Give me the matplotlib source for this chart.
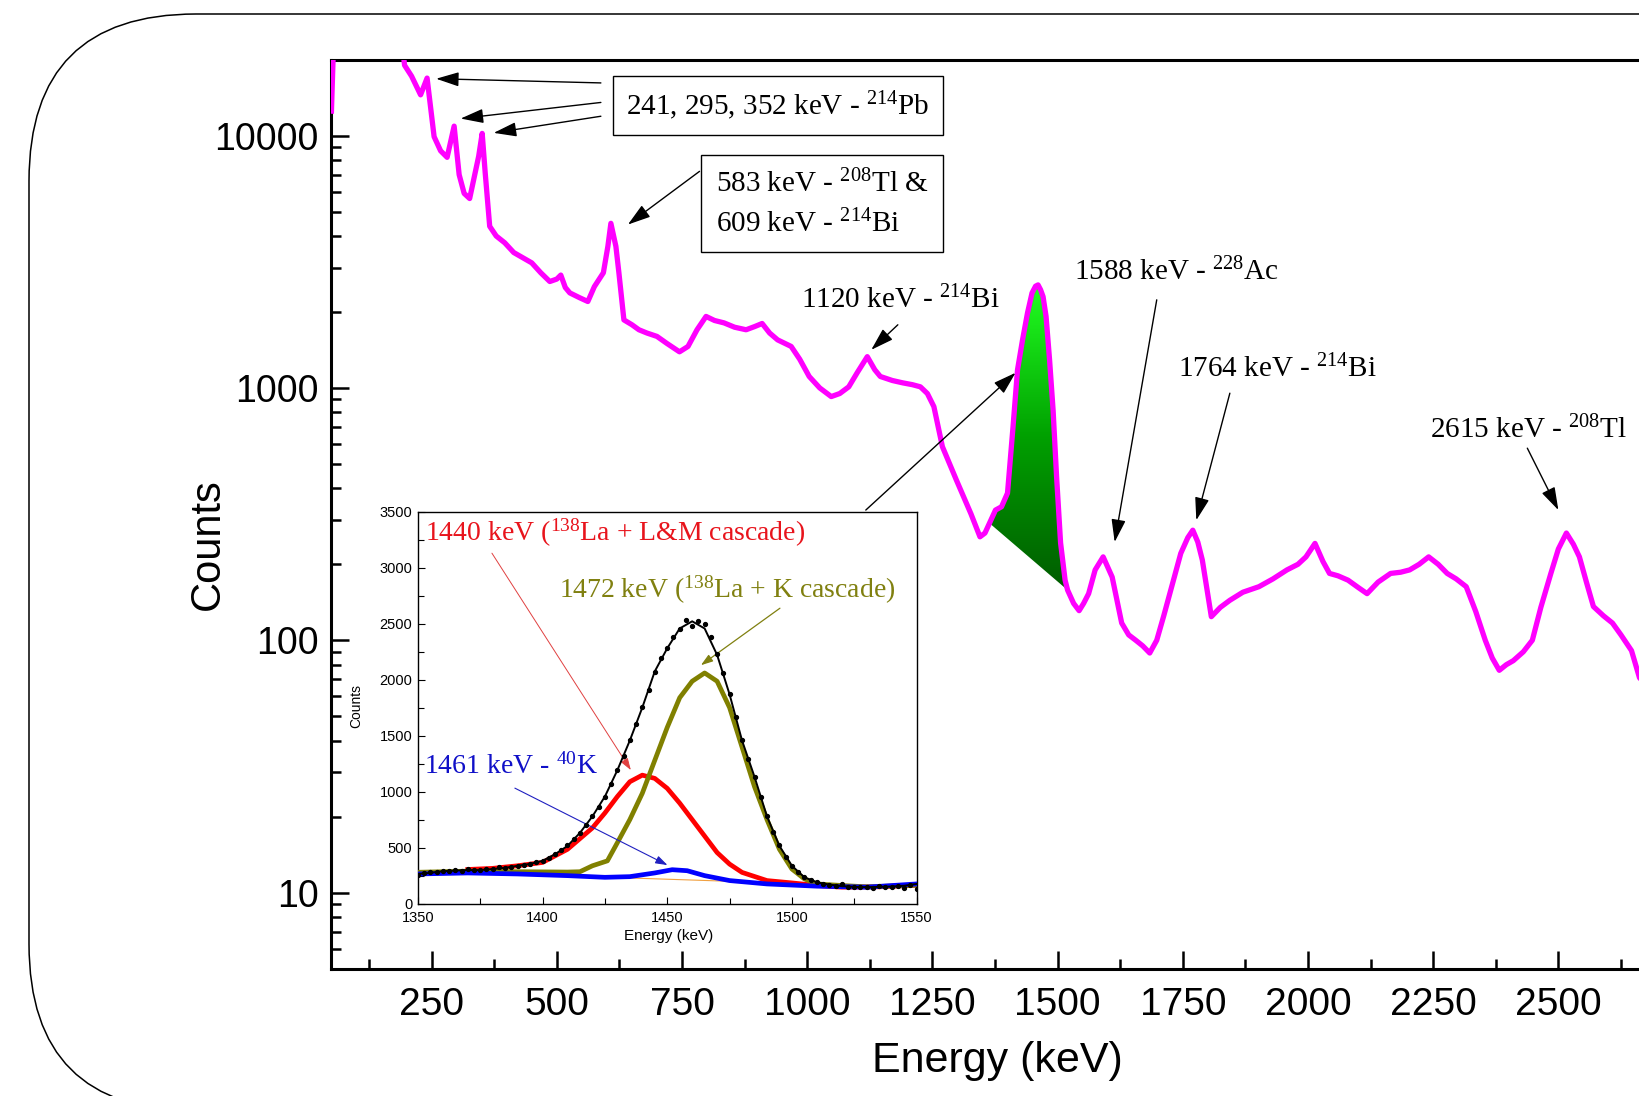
import numpy as np
import matplotlib.pyplot as plt
from matplotlib.patches import FancyBboxPatch, Polygon
from matplotlib.colors import LinearSegmentedColormap
from matplotlib.ticker import MultipleLocator, LogLocator, NullFormatter, FuncFormatter
from matplotlib.transforms import IdentityTransform

plt.rcParams['font.family'] = ['Liberation Sans', 'DejaVu Sans']
plt.rcParams['mathtext.fontset'] = 'custom'
plt.rcParams['mathtext.rm'] = 'Liberation Serif'
plt.rcParams['mathtext.it'] = 'Liberation Serif:italic'
plt.rcParams['mathtext.bf'] = 'Liberation Serif:bold'

# -------------------------------------------------
# Main spectrum
# -------------------------------------------------
energy = [50, 56, 185, 196, 210, 228, 241, 255, 268, 281, 295, 305, 315, 326, 344,
          351, 357, 366, 379, 396, 414, 432, 450, 468, 486, 500, 508, 517, 526, 545,
          562, 575, 593, 602, 608, 618, 624, 634, 650, 664, 680, 700, 720, 745, 762,
          780, 798, 815, 834, 855, 878, 895, 910, 925, 941, 968, 985, 1004, 1025, 1048,
          1065, 1083, 1100, 1120, 1135, 1146, 1170, 1191, 1210, 1226, 1240, 1253, 1270, 1298, 1327,
          1345, 1355, 1364, 1376, 1388, 1400, 1411, 1420, 1430, 1440, 1449, 1456, 1461, 1466, 1471,
          1477, 1484, 1491, 1498, 1506, 1515, 1520, 1532, 1543, 1552, 1562, 1575, 1591, 1609, 1628,
          1642, 1656, 1670, 1684, 1698, 1712, 1726, 1746, 1760, 1770, 1780, 1789, 1807, 1825, 1844,
          1870, 1902, 1930, 1958, 1980, 1996, 2014, 2030, 2043, 2060, 2080, 2100, 2118, 2140, 2165,
          2185, 2203, 2222, 2241, 2260, 2278, 2296, 2316, 2335, 2354, 2368, 2382, 2396, 2410, 2430,
          2448, 2465, 2485, 2500, 2516, 2530, 2542, 2556, 2570, 2590, 2608, 2625, 2646, 2662, 2680]
counts = [12500, 30000, 30000, 19000, 17200, 14500, 16900, 9900, 8700, 8200, 10900, 7000, 5900, 5630, 8280,
          10200, 7130, 4370, 4000, 3760, 3440, 3280, 3130, 2860, 2640, 2700, 2800, 2500, 2380, 2280,
          2200, 2520, 2860, 3640, 4490, 3640, 2860, 1860, 1780, 1700, 1650, 1600, 1500, 1390, 1460,
          1700, 1920, 1850, 1810, 1740, 1700, 1750, 1800, 1650, 1550, 1460, 1300, 1110, 1000, 924,
          950, 1010, 1150, 1330, 1180, 1110, 1070, 1047, 1030, 1010, 950, 843, 585, 431, 317,
          257, 266, 291, 328, 338, 383, 701, 1180, 1550, 1985, 2380, 2530, 2560, 2450, 2300,
          1920, 1292, 818, 445, 243, 173, 158, 140, 131, 140, 153, 190, 214, 178, 117,
          105, 100, 95, 89, 100, 125, 158, 221, 255, 273, 245, 208, 124, 135, 144,
          155, 163, 175, 190, 200, 214, 242, 205, 184, 180, 173, 162, 153, 170, 184,
          186, 190, 200, 214, 200, 184, 175, 163, 130, 100, 85, 76, 80, 83, 90,
          100, 135, 184, 230, 266, 240, 214, 170, 136, 125, 117, 105, 91, 71, 65]

# -------------------------------------------------
# Inset: fit of the 1460 keV region
# -------------------------------------------------
fit_e = [1350, 1355, 1360, 1365, 1370, 1375, 1380, 1385, 1390, 1395, 1400, 1405, 1410, 1415,
         1420, 1425, 1430, 1435, 1440, 1445, 1450, 1455, 1460, 1465, 1470, 1475, 1480, 1485,
         1490, 1495, 1500, 1505, 1510, 1515, 1520, 1525, 1530, 1535, 1540, 1545, 1550]
fit_total = [265, 275, 290, 295, 300, 300, 309, 320, 338, 355, 382, 441, 515, 632,
             779, 956, 1191, 1456, 1750, 2073, 2279, 2456, 2520, 2456, 2220, 1868, 1456, 1132,
             779, 515, 338, 235, 191, 170, 156, 150, 147, 150, 153, 160, 176]

dots_e = [1350.0, 1352.5, 1355.0, 1357.5, 1360.0, 1362.5, 1365.0, 1367.5, 1370.0, 1372.5,
          1375.0, 1377.5, 1380.0, 1382.5, 1385.0, 1387.5, 1390.0, 1392.5, 1395.0, 1397.5,
          1400.0, 1402.5, 1405.0, 1407.5, 1410.0, 1412.5, 1415.0, 1417.5, 1420.0, 1422.5,
          1425.0, 1427.5, 1430.0, 1432.5, 1435.0, 1437.5, 1440.0, 1442.5, 1445.0, 1447.5,
          1450.0, 1452.5, 1455.0, 1457.5, 1460.0, 1462.5, 1465.0, 1467.5, 1470.0, 1472.5,
          1475.0, 1477.5, 1480.0, 1482.5, 1485.0, 1487.5, 1490.0, 1492.5, 1495.0, 1497.5,
          1500.0, 1502.5, 1505.0, 1507.5, 1510.0, 1512.5, 1515.0, 1517.5, 1520.0, 1522.5,
          1525.0, 1527.5, 1530.0, 1532.5, 1535.0, 1537.5, 1540.0, 1542.5, 1545.0, 1547.5, 1550.0]
dots_c = [260, 270, 280, 285, 290, 292, 300, 295, 305, 298,
          300, 305, 310, 325, 318, 330, 338, 345, 358, 370,
          385, 410, 445, 478, 520, 575, 630, 700, 785, 860,
          950, 1070, 1190, 1320, 1460, 1600, 1755, 1910, 2070, 2190,
          2280, 2380, 2450, 2530, 2480, 2525, 2500, 2380, 2230, 2060,
          1870, 1670, 1460, 1290, 1130, 950, 785, 640, 520, 420,
          335, 280, 240, 210, 190, 175, 168, 160, 175, 150,
          148, 145, 150, 140, 155, 145, 150, 160, 140, 165, 130]

lm_e = [1370, 1380, 1390, 1400, 1410, 1420, 1425, 1430, 1435, 1440, 1445, 1450, 1455, 1460,
        1465, 1470, 1475, 1480, 1490, 1500, 1510, 1520, 1535, 1550]
lm_c = [305, 315, 338, 368, 485, 676, 809, 956, 1088, 1147, 1118, 1029, 897, 750,
        603, 456, 353, 279, 206, 185, 162, 147, 150, 165]

k_e = [1350, 1370, 1390, 1410, 1415, 1420, 1426, 1430, 1435, 1440, 1445, 1450, 1455, 1460,
       1465, 1470, 1475, 1480, 1485, 1490, 1495, 1500, 1505, 1510, 1520, 1530, 1550]
k_c = [280, 290, 285, 282, 285, 338, 382, 544, 750, 985, 1279, 1573, 1838, 1985,
       2059, 1985, 1750, 1397, 1044, 750, 485, 309, 221, 176, 162, 150, 165]

k40_e = [1350, 1370, 1390, 1410, 1425, 1435, 1445, 1452, 1458, 1465, 1475, 1490, 1510, 1530, 1550]
k40_c = [265, 274, 265, 250, 235, 241, 274, 303, 294, 250, 206, 176, 156, 147, 176]

bg_e = [1420, 1495]
bg_c = [240, 185]

# -------------------------------------------------
# Figure and main axes
# -------------------------------------------------
fig = plt.figure(figsize=(16.4, 10.96), dpi=100)
ax = fig.add_axes([0.2021, 0.1163, 0.8092, 0.8293])
ax.set_yscale('log')
ax.set_xlim(50, 2700)
ax.set_ylim(5, 20000)

ax.plot(energy, counts, color='#ff00ff', lw=3.8, zorder=3)

# green shaded 1461 keV peak
peak_pts = [(e, c) for e, c in zip(energy, counts) if 1364 <= e <= 1520]
poly = Polygon(peak_pts, closed=True, fc='none', ec='none')
ax.add_patch(poly)
pa = ax.transAxes.inverted().transform(ax.transData.transform(peak_pts))
greens = LinearSegmentedColormap.from_list('gr', ['#005c00', '#00a000', '#22ff22'])
img = ax.imshow(np.linspace(0, 1, 256).reshape(-1, 1), cmap=greens, origin='lower',
                extent=[pa[:, 0].min(), pa[:, 0].max(), pa[:, 1].min(), pa[:, 1].max()],
                transform=ax.transAxes, aspect='auto', zorder=2)
img.set_clip_path(poly)
ax.set_xlim(50, 2700)
ax.set_ylim(5, 20000)

for s in ax.spines.values():
    s.set_linewidth(2.2)
ax.xaxis.set_major_locator(MultipleLocator(250))
ax.xaxis.set_minor_locator(MultipleLocator(125))
ax.yaxis.set_major_locator(LogLocator(base=10))
ax.yaxis.set_minor_locator(LogLocator(base=10, subs=range(2, 10)))
ax.yaxis.set_major_formatter(FuncFormatter(lambda v, p: f'{v:g}'))
ax.yaxis.set_minor_formatter(NullFormatter())
ax.tick_params(which='major', direction='in', length=13, width=1.8)
ax.tick_params(which='minor', direction='in', length=7, width=1.8)
ax.tick_params(axis='x', labelsize=28, pad=13)
ax.tick_params(axis='y', labelsize=27, pad=9)
ax.set_xlabel('Energy (keV)', fontsize=31)
ax.set_ylabel('Counts', fontsize=30)
ax.xaxis.set_label_coords(0.5015, -0.08)
ax.yaxis.set_label_coords(-0.078, 0.467)

# annotations
serif = 'Liberation Serif'
box = dict(boxstyle='square,pad=0.4', fc='white', ec='black', lw=1)
arrow = dict(arrowstyle='-|>,head_length=0.7,head_width=0.22', mutation_scale=20,
             color='black', lw=1.0, shrinkA=0, shrinkB=0)

ax.text(941, 13150, r'241, 295, 352 keV - $^{214}$Pb', fontsize=21, family=serif,
        ha='center', va='center', bbox=dict(boxstyle='square,pad=0.45', fc='white', ec='black', lw=1))
ax.annotate('', xy=(259, 16800), xytext=(588, 16170), arrowprops=arrow)
ax.annotate('', xy=(308, 11680), xytext=(588, 13530), arrowprops=arrow)
ax.annotate('', xy=(374, 10250), xytext=(588, 11930), arrowprops=arrow)

ax.text(1030, 5370, '583 keV - $^{208}$Tl &\n609 keV - $^{214}$Bi', fontsize=21, family=serif,
        ha='center', va='center', multialignment='left', linespacing=1.5,
        bbox=dict(boxstyle='square,pad=0.5', fc='white', ec='black', lw=1))
ax.annotate('', xy=(642, 4440), xytext=(785, 7215), arrowprops=arrow)

ax.text(1187, 2234, '1120 keV - $^{214}$Bi', fontsize=21, family=serif, ha='center', va='center')
ax.annotate('', xy=(1128, 1416), xytext=(1181, 1779), arrowprops=arrow)

ax.text(1737, 2884, '1588 keV - $^{228}$Ac', fontsize=21, family=serif, ha='center', va='center')
ax.annotate('', xy=(1614, 245), xytext=(1698, 2234), arrowprops=arrow)

ax.text(1939, 1189, '1764 keV - $^{214}$Bi', fontsize=21, family=serif, ha='center', va='center')
ax.annotate('', xy=(1777, 299), xytext=(1844, 953), arrowprops=arrow)

ax.text(2440, 680, '2615 keV - $^{208}$Tl', fontsize=21, family=serif, ha='center', va='center')
ax.annotate('', xy=(2500, 328), xytext=(2438, 577), arrowprops=arrow)

ax.annotate('', xy=(1416, 1148), xytext=(1117, 328), arrowprops=arrow, zorder=6)

# -------------------------------------------------
# Inset
# -------------------------------------------------
ins = fig.add_axes([0.2548, 0.1755, 0.3041, 0.3578])
ins.set_zorder(5)
ins.plot(bg_e, bg_c, color='#f0a040', lw=0.8, zorder=1)
ins.plot(lm_e, lm_c, color='#ff0000', lw=3.4, zorder=2)
ins.plot(k_e, k_c, color='#808000', lw=3.4, zorder=3)
ins.plot(k40_e, k40_c, color='#0000ff', lw=3.4, zorder=4)
ins.plot(fit_e, fit_total, color='black', lw=1.4, zorder=5)
ins.plot(dots_e, dots_c, 'o', color='black', ms=2.8, zorder=6)
ins.set_xlim(1350, 1550)
ins.set_ylim(0, 3500)
ins.xaxis.set_major_locator(MultipleLocator(50))
ins.xaxis.set_minor_locator(MultipleLocator(25))
ins.yaxis.set_major_locator(MultipleLocator(500))
ins.yaxis.set_minor_locator(MultipleLocator(250))
ins.tick_params(which='major', direction='in', length=5, width=0.8, labelsize=10.5)
ins.tick_params(which='minor', direction='in', length=4, width=0.8)
ins.tick_params(axis='x', pad=5)
ins.tick_params(axis='y', pad=4)
for s in ins.spines.values():
    s.set_linewidth(1.0)
ins.set_xlabel('Energy (keV)', fontsize=11)
ins.set_ylabel('Counts', fontsize=10)
ins.xaxis.set_label_coords(0.503, -0.065)
ins.yaxis.set_label_coords(-0.11, 0.504)

ins.text(1353, 3305, '1440 keV ($^{138}$La + L&M cascade)', color='#e8141c', fontsize=20,
         family=serif, ha='left', va='center')
ins.text(1406.6, 2797, '1472 keV ($^{138}$La + K cascade)', color='#808010', fontsize=20,
         family=serif, ha='left', va='center')
ins.text(1352.4, 1221, '1461 keV - $^{40}$K', color='#1010c8', fontsize=20,
         family=serif, ha='left', va='center')
ins.annotate('', xy=(1435.4, 1192), xytext=(1379.7, 3128),
             arrowprops=dict(arrowstyle='-|>,head_length=0.6,head_width=0.2', mutation_scale=12,
                             color='#e04040', lw=0.7, shrinkA=0, shrinkB=0))
ins.annotate('', xy=(1463.5, 2128), xytext=(1495.2, 2637),
             arrowprops=dict(arrowstyle='-|>,head_length=0.6,head_width=0.2', mutation_scale=12,
                             color='#808010', lw=0.9, shrinkA=0, shrinkB=0))
ins.annotate('', xy=(1450.1, 344), xytext=(1388.9, 1031),
             arrowprops=dict(arrowstyle='-|>,head_length=0.6,head_width=0.2', mutation_scale=12,
                             color='#2020c0', lw=0.8, shrinkA=0, shrinkB=0))

# rounded outer frame
frame = FancyBboxPatch((29, -15), 1800, 1097, boxstyle='round,pad=0,rounding_size=167',
                       transform=IdentityTransform(), fc='none', ec='black', lw=1.1)
fig.add_artist(frame)

plt.savefig('out.png', dpi=100)
